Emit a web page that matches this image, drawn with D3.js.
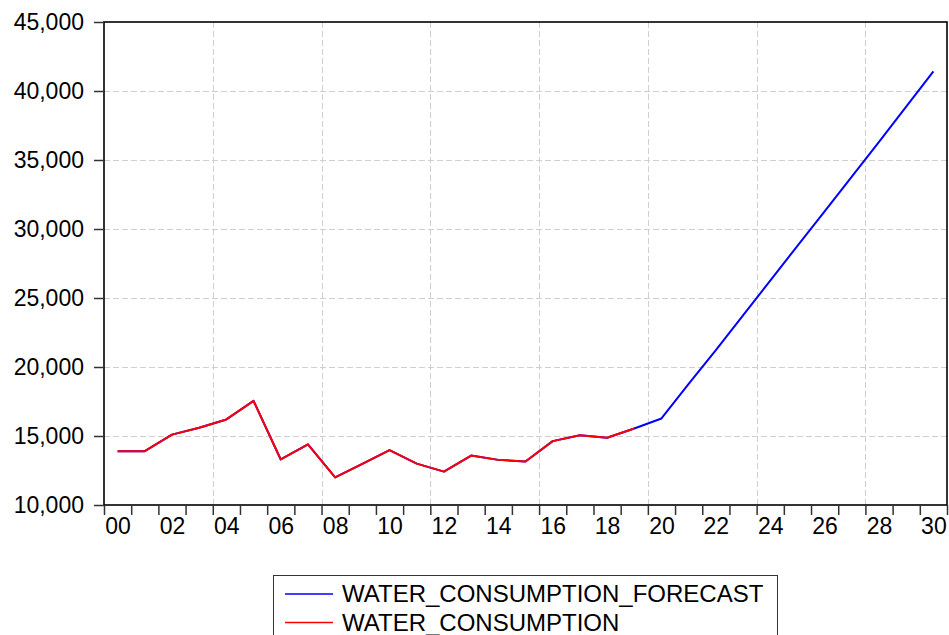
<!DOCTYPE html>
<html>
<head>
<meta charset="utf-8">
<script src="https://cdn.jsdelivr.net/npm/d3@7"></script>
<style>
  html, body { margin: 0; padding: 0; background: #fff; }
  svg { display: block; }
  text { font-family: "Liberation Sans", Arial, sans-serif; fill: #000; }
</style>
</head>
<body>
<svg id="chart" width="949" height="635"></svg>
<script>
// ---- data ----
const years = d3.range(2000, 2031);
const actualYears = d3.range(2000, 2020);
const waterConsumption = [13900, 13900, 15100, 15600, 16200, 17550, 13300, 14400, 12000, 12980,
                          13970, 13000, 12420, 13580, 13270, 13150, 14630, 15060, 14870, 15540];
const waterForecast = [13900, 13900, 15100, 15600, 16200, 17550, 13300, 14400, 12000, 12980,
                       13970, 13000, 12420, 13580, 13270, 13150, 14630, 15060, 14870, 15540,
                       16270, 18770, 21220, 23740, 26260, 28780, 31280, 33800, 36320, 38860, 41420];
const yTicks = [10000, 15000, 20000, 25000, 30000, 35000, 40000, 45000];
const gridYears = [2004, 2008, 2012, 2016, 2020, 2024, 2028];
const labelYears = d3.range(2000, 2031, 2);
const seriesNames = ["WATER_CONSUMPTION_FORECAST", "WATER_CONSUMPTION"];
const seriesColors = ["#0000ff", "#ff0000"];

// ---- layout ----
const svg = d3.select("#chart");
const L = 104, R = 947, T = 22, B = 505;

const x = d3.scaleLinear().domain([1999.5, 2030.5]).range([L, R]);
const y = d3.scaleLinear().domain([10000, 45000]).range([B, T]);

// gridlines
const grid = svg.append("g").attr("stroke", "#cfcfcf").attr("stroke-width", 1).attr("stroke-dasharray", "6,3");
grid.selectAll("line.h").data(yTicks.filter(v => v > 10000 && v < 45000)).join("line")
  .attr("x1", L).attr("x2", R)
  .attr("y1", d => Math.round(y(d)) + 0.5).attr("y2", d => Math.round(y(d)) + 0.5);
grid.selectAll("line.v").data(gridYears).join("line")
  .attr("y1", T).attr("y2", B)
  .attr("x1", d => Math.round(x(d - 0.5)) + 0.5).attr("x2", d => Math.round(x(d - 0.5)) + 0.5);

// lines
const line = d3.line().x(d => x(d[0])).y(d => y(d[1]));
svg.append("path")
  .datum(years.map((yr, i) => [yr, waterForecast[i]]))
  .attr("fill", "none").attr("stroke", seriesColors[0]).attr("stroke-width", 2)
  .attr("stroke-linejoin", "round").attr("d", line);
svg.append("path")
  .datum(actualYears.map((yr, i) => [yr, waterConsumption[i]]))
  .attr("fill", "none").attr("stroke", seriesColors[1]).attr("stroke-width", 2)
  .attr("stroke-linejoin", "round").attr("d", line);

// frame
svg.append("rect").attr("x", L).attr("y", T).attr("width", R - L).attr("height", B - T)
  .attr("fill", "none").attr("stroke", "#000").attr("stroke-width", 1.6);

// y axis
const yAxis = d3.axisLeft(y).tickValues(yTicks).tickSize(10).tickPadding(10)
  .tickFormat(d3.format(",d"));
const gy = svg.append("g").attr("transform", `translate(${L},0)`).call(yAxis);
gy.select(".domain").remove();
gy.selectAll(".tick line").attr("stroke", "#333").attr("stroke-width", 1.5);
gy.selectAll(".tick text").style("font-size", "23px").style("font-family", "Liberation Sans, Arial, sans-serif").attr("fill", "#000");

// x axis: ticks at year boundaries
const xAxisTicks = d3.axisBottom(x).tickValues(d3.range(1999.5, 2030.6, 1)).tickSize(10).tickFormat("");
const gx = svg.append("g").attr("transform", `translate(0,${B})`).call(xAxisTicks);
gx.select(".domain").remove();
gx.selectAll(".tick line").attr("stroke", "#333").attr("stroke-width", 1.5);

// x labels at year centers
const xAxisLabels = d3.axisBottom(x).tickValues(labelYears).tickSize(0).tickPadding(13)
  .tickFormat(d => String(d % 100).padStart(2, "0"));
const gxl = svg.append("g").attr("transform", `translate(0,${B})`).call(xAxisLabels);
gxl.select(".domain").remove();
gxl.selectAll(".tick text").style("font-size", "23px").style("font-family", "Liberation Sans, Arial, sans-serif").attr("fill", "#000");

// legend
const lg = svg.append("g");
lg.append("rect").attr("x", 273.5).attr("y", 575.5).attr("width", 504).attr("height", 80)
  .attr("fill", "#fff").attr("stroke", "#333").attr("stroke-width", 1);
seriesNames.forEach((name, i) => {
  const yy = 594 + i * 28.5;
  lg.append("line").attr("x1", 285).attr("x2", 333).attr("y1", yy).attr("y2", yy)
    .attr("stroke", seriesColors[i]).attr("stroke-width", 1.5);
  lg.append("text").attr("x", 342).attr("y", yy + 8).style("font-size", "24px").text(name);
});
</script>
</body>
</html>
